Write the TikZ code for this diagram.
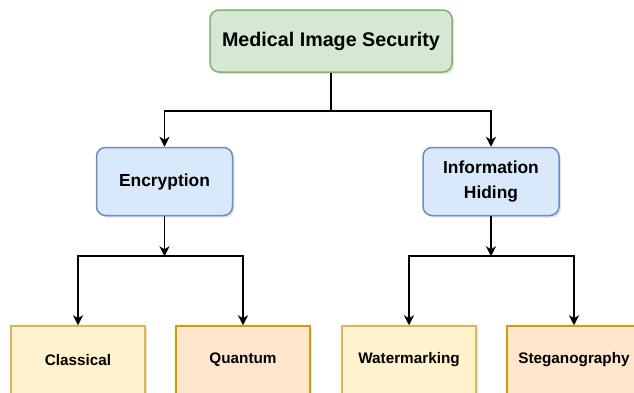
\documentclass[tikz,border=0pt]{standalone}
\usepackage{fontspec}
\setmainfont{Liberation Sans}
\usetikzlibrary{positioning,arrows.meta,shadows}

\definecolor{rootfill}{HTML}{D5E8D4}
\definecolor{rootline}{HTML}{82B366}
\definecolor{midfill}{HTML}{DAE8FC}
\definecolor{midline}{HTML}{6C8EBF}
\definecolor{leaffill}{HTML}{FFF2CC}
\definecolor{leafline}{HTML}{D6B656}
\definecolor{leaf2fill}{HTML}{FFE6CC}
\definecolor{leaf2line}{HTML}{D79B00}

\begin{document}
\begin{tikzpicture}[-{Stealth[length=10pt,width=10pt,inset=3pt]},line width=1.6pt,
                    on grid,font=\bfseries,
                    box/.style={draw,line width=1.5pt,align=center,inner sep=0pt,
                      drop shadow={opacity=.22,shadow xshift=2pt,shadow yshift=-2pt}},
                    root node/.style={box,rounded corners=9pt,fill=rootfill,draw=rootline,
                      minimum width=242pt,minimum height=62pt,font=\bfseries\fontsize{19.7}{24}\selectfont},
                    mid node/.style={box,rounded corners=9pt,fill=midfill,draw=midline,
                      minimum width=136pt,minimum height=68pt,font=\bfseries\fontsize{17.4}{25}\selectfont},
                    leaf node/.style={box,fill=leaffill,draw=leafline,
                      minimum width=134pt,minimum height=68pt,font=\bfseries\fontsize{15.3}{18}\selectfont},
                    leaf2 node/.style={leaf node,fill=leaf2fill,draw=leaf2line}]

  \useasboundingbox (0,0) rectangle (634pt,-392pt);

  \node[root node] (mis) at (331pt,-41pt) {Medical Image Security};
  \node[mid node] (enc) [below left=140.5pt and 166.5pt of mis] {Encryption};
  \node[mid node] (hid) [below right=140.5pt and 160pt of mis] {Information\\Hiding};

  \node[leaf node]  (cls) [below left=178.5pt and 86.5pt of enc] {Classical};
  \node[leaf2 node] (qua) [below right=178.5pt and 78.5pt of enc] {Quantum};
  \node[leaf node]  (wat) [below left=178.5pt and 82pt of hid] {Watermarking};
  \node[leaf2 node] (ste) [below right=178.5pt and 83pt of hid] {Steganography};

  \coordinate (j0) at ([yshift=-38pt]mis.south);
  \coordinate (j1) at ([yshift=-40pt]enc.south);
  \coordinate (j2) at ([yshift=-40pt]hid.south);

  \draw[-] (mis.south) -- (j0);
  \draw (j0) -| (enc.north);
  \draw (j0) -| (hid.north);

  \draw (enc.south) -- (j1);
  \draw (j1) -| (cls.north);
  \draw (j1) -| (qua.north);

  \draw (hid.south) -- (j2);
  \draw (j2) -| (wat.north);
  \draw (j2) -| (ste.north);
\end{tikzpicture}
\end{document}
